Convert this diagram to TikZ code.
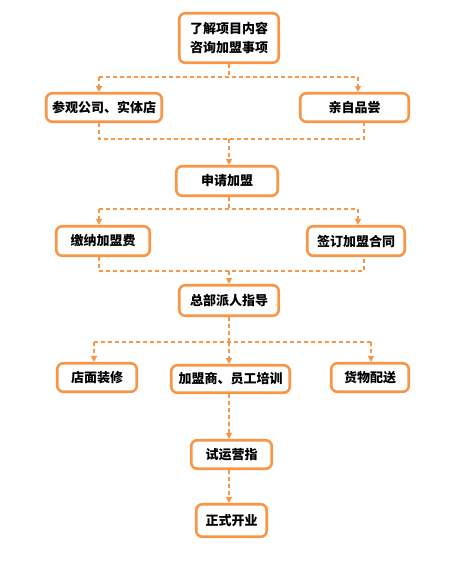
\documentclass[tikz,border=0pt]{standalone}
\usepackage{fontspec}
\newfontfamily\cjk{Noto Sans CJK SC}
\usepackage{tikz}
\usetikzlibrary{arrows.meta,calc}
\definecolor{flowor}{HTML}{F79646}
\def\BoxLine{2.6pt}
\def\DashLine{1.1pt}
\tikzset{
  stepbox/.style={draw=flowor,line width=\BoxLine,rounded corners=6pt,fill=white,inner sep=0pt,
    text=black,align=center,font=\cjk\bfseries\fontsize{13}{19}\selectfont},
  flow/.style={draw=flowor,line width=\DashLine,dash pattern=on 4pt off 3pt},
  flowarr/.style={flow,-{Triangle[width=6pt,length=6pt]}},
}

\begin{document}
\begin{tikzpicture}[x=1pt,y=-1pt]
	\useasboundingbox (0,0) rectangle (455,570);
	% steps
	\node[stepbox,minimum width=99.5pt,minimum height=49.5pt] (a) at (229,38) {了解项目内容\\咨询加盟事项};
	\node[stepbox,minimum width=115.5pt,minimum height=28.5pt] (b) at (104,107.5) {参观公司、实体店};
	\node[stepbox,minimum width=108.5pt,minimum height=28.5pt] (c) at (354.5,107.5) {亲自品尝};
	\node[stepbox,minimum width=101.5pt,minimum height=29.5pt] (d) at (227,181) {申请加盟};
	\node[stepbox,minimum width=93.5pt,minimum height=29.5pt] (e) at (103,241) {缴纳加盟费};
	\node[stepbox,minimum width=97.5pt,minimum height=29.5pt] (f) at (356,241) {签订加盟合同};
	\node[stepbox,minimum width=99.5pt,minimum height=30.5pt] (g) at (229,300.5) {总部派人指导};
	\node[stepbox,minimum width=79.5pt,minimum height=28.5pt] (h) at (97,377.5) {店面装修};
	\node[stepbox,minimum width=118.5pt,minimum height=27.5pt] (i) at (230.5,379) {加盟商、员工培训};
	\node[stepbox,minimum width=77.5pt,minimum height=28.5pt] (j) at (370,377.5) {货物配送};
	\node[stepbox,minimum width=80.5pt,minimum height=28.5pt] (k) at (231.5,454.5) {试运营指};
	\node[stepbox,minimum width=70.5pt,minimum height=32.5pt] (l) at (231.5,520.5) {正式开业};
	% 
	\coordinate (ab) at (229,77);
	\coordinate (ab1) at (99,77);
	\coordinate (ab2) at (358,77);
	\coordinate (bc) at (229,139);
	\coordinate (bc1) at (99,139);
	\coordinate (bc2) at (364,139);
	% 
	\coordinate (de) at (229,209);
	\coordinate (de1) at (99,209);
	\coordinate (de2) at (358,209);
	\coordinate (ef) at (229,271);
	\coordinate (ef1) at (99,271);
	\coordinate (ef2) at (364,271);
	% 
	\coordinate (gh) at (229,342);
	\coordinate (gh1) at (94,342);
	\coordinate (gh2) at (371,342);
	% 
	\draw[flow] (a.south -| ab) -- (ab);
	\draw[flow] (ab1) -- (ab2);
	\draw[flowarr] (ab1) -- (ab1 |- b.north);
	\draw[flowarr] (ab2) -- (ab2 |- c.north);
	\draw[flow] (b.south -| bc1) -- (bc1) -- (bc2) -- (c.south -| bc2);
	\draw[flowarr] (bc) -- (bc |- d.north);
	% 
	\draw[flow] (d.south -| de) -- (de);
	\draw[flow] (de1) -- (de2);
	\draw[flowarr] (de1) -- (de1 |- e.north);
	\draw[flowarr] (de2) -- (de2 |- f.north);
	\draw[flow] (e.south -| ef1) -- (ef1) -- (ef2) -- (f.south -| ef2);
	\draw[flowarr] (ef) -- (ef |- g.north);
	% 
	\draw[flow] (g.south -| gh) -- (gh);
	\draw[flow] (gh1) -- (gh2);
	\draw[flowarr] (gh1) -- (gh1 |- h.north);
	\draw[flowarr] (gh2) -- (gh2 |- j.north);
	\draw[flowarr] (gh) -- (gh |- i.north);
	% 
	\draw[flowarr] (i.south -| gh) -- (gh |- k.north);
	\draw[flowarr] (k.south -| gh) -- (gh |- l.north);
\end{tikzpicture}
\end{document}
